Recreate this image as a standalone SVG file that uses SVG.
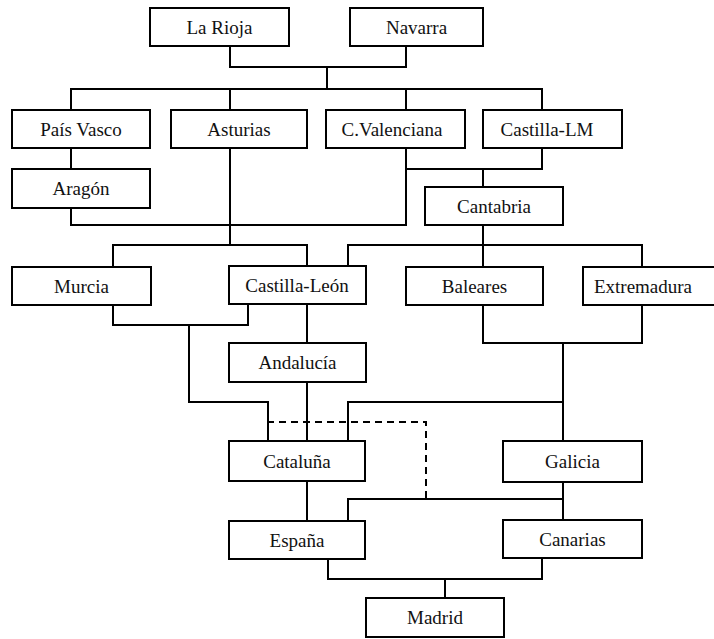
<svg xmlns="http://www.w3.org/2000/svg" width="714" height="639" viewBox="0 0 714 639">
<style>
.box rect{fill:#fff;stroke:#000;stroke-width:2}
.box text{font-family:"Liberation Serif","Times New Roman",serif;font-size:19px;fill:#111;text-anchor:middle}
#connectors path{fill:none;stroke:#000;stroke-width:2}
#connectors path.dash{stroke-dasharray:7,5}
</style>
<rect width="714" height="639" fill="#fff"/>
<g id="connectors">
<path d="M230,46 V67 H406 V46"/>
<path d="M327,67 V89"/>
<path d="M71,110 V89 H542 V110"/>
<path d="M230,89 V110"/>
<path d="M406,89 V110"/>
<path d="M71,148 V169"/>
<path d="M71,208 V225 H406 V148"/>
<path d="M230,148 V245"/>
<path d="M406,169 H542 V148"/>
<path d="M483,169 V187"/>
<path d="M113,267 V245 H307 V266"/>
<path d="M483,225 V267"/>
<path d="M348,266 V245 H642 V267"/>
<path d="M113,305 V325 H248 V304"/>
<path d="M189,325 V402 H268 V441"/>
<path d="M307,304 V343"/>
<path d="M307,382 V441"/>
<path d="M483,305 V343 H642 V305"/>
<path d="M563,343 V441"/>
<path d="M348,441 V402 H563"/>
<path class="dash" d="M267,422 H426 V500"/>
<path d="M307,481 V521"/>
<path d="M563,482 V520"/>
<path d="M348,521 V499 H563"/>
<path d="M328,559 V579 H542 V558"/>
<path d="M445,579 V598"/>
</g>
<g id="larioja" class="box"><rect x="150" y="8" width="139" height="38"/><text x="219.5" y="33.5">La Rioja</text></g>
<g id="navarra" class="box"><rect x="350" y="8" width="133" height="38"/><text x="416.5" y="33.5">Navarra</text></g>
<g id="paisvasco" class="box"><rect x="12" y="110" width="138" height="38"/><text x="81" y="135.5">País Vasco</text></g>
<g id="asturias" class="box"><rect x="171" y="110" width="136" height="38"/><text x="239" y="135.5">Asturias</text></g>
<g id="cvalenciana" class="box"><rect x="326" y="110" width="139" height="38"/><text x="392" y="135.5">C.Valenciana</text></g>
<g id="castillalm" class="box"><rect x="483" y="110" width="139" height="38"/><text x="547" y="135.5">Castilla-LM</text></g>
<g id="aragon" class="box"><rect x="12" y="169" width="138" height="39"/><text x="81" y="195">Aragón</text></g>
<g id="cantabria" class="box"><rect x="425" y="187" width="138" height="38"/><text x="494" y="212.5">Cantabria</text></g>
<g id="murcia" class="box"><rect x="12" y="267" width="139" height="38"/><text x="81.5" y="292.5">Murcia</text></g>
<g id="castillaleon" class="box"><rect x="229" y="266" width="137" height="38"/><text x="297" y="291.5">Castilla-León</text></g>
<g id="baleares" class="box"><rect x="406" y="267" width="137" height="38"/><text x="474.5" y="292.5">Baleares</text></g>
<g id="extremadura" class="box"><rect x="583" y="267" width="140" height="38"/><text x="643" y="292.5">Extremadura</text></g>
<g id="andalucia" class="box"><rect x="229" y="343" width="137" height="39"/><text x="297.5" y="369">Andalucía</text></g>
<g id="cataluna" class="box"><rect x="229" y="441" width="136" height="40"/><text x="297" y="467.5">Cataluña</text></g>
<g id="galicia" class="box"><rect x="503" y="441" width="139" height="41"/><text x="572.5" y="468">Galicia</text></g>
<g id="espana" class="box"><rect x="229" y="521" width="136" height="38"/><text x="297" y="546.5">España</text></g>
<g id="canarias" class="box"><rect x="503" y="520" width="139" height="38"/><text x="572.5" y="545.5">Canarias</text></g>
<g id="madrid" class="box"><rect x="366" y="598" width="138" height="39"/><text x="435" y="624">Madrid</text></g>
</svg>
